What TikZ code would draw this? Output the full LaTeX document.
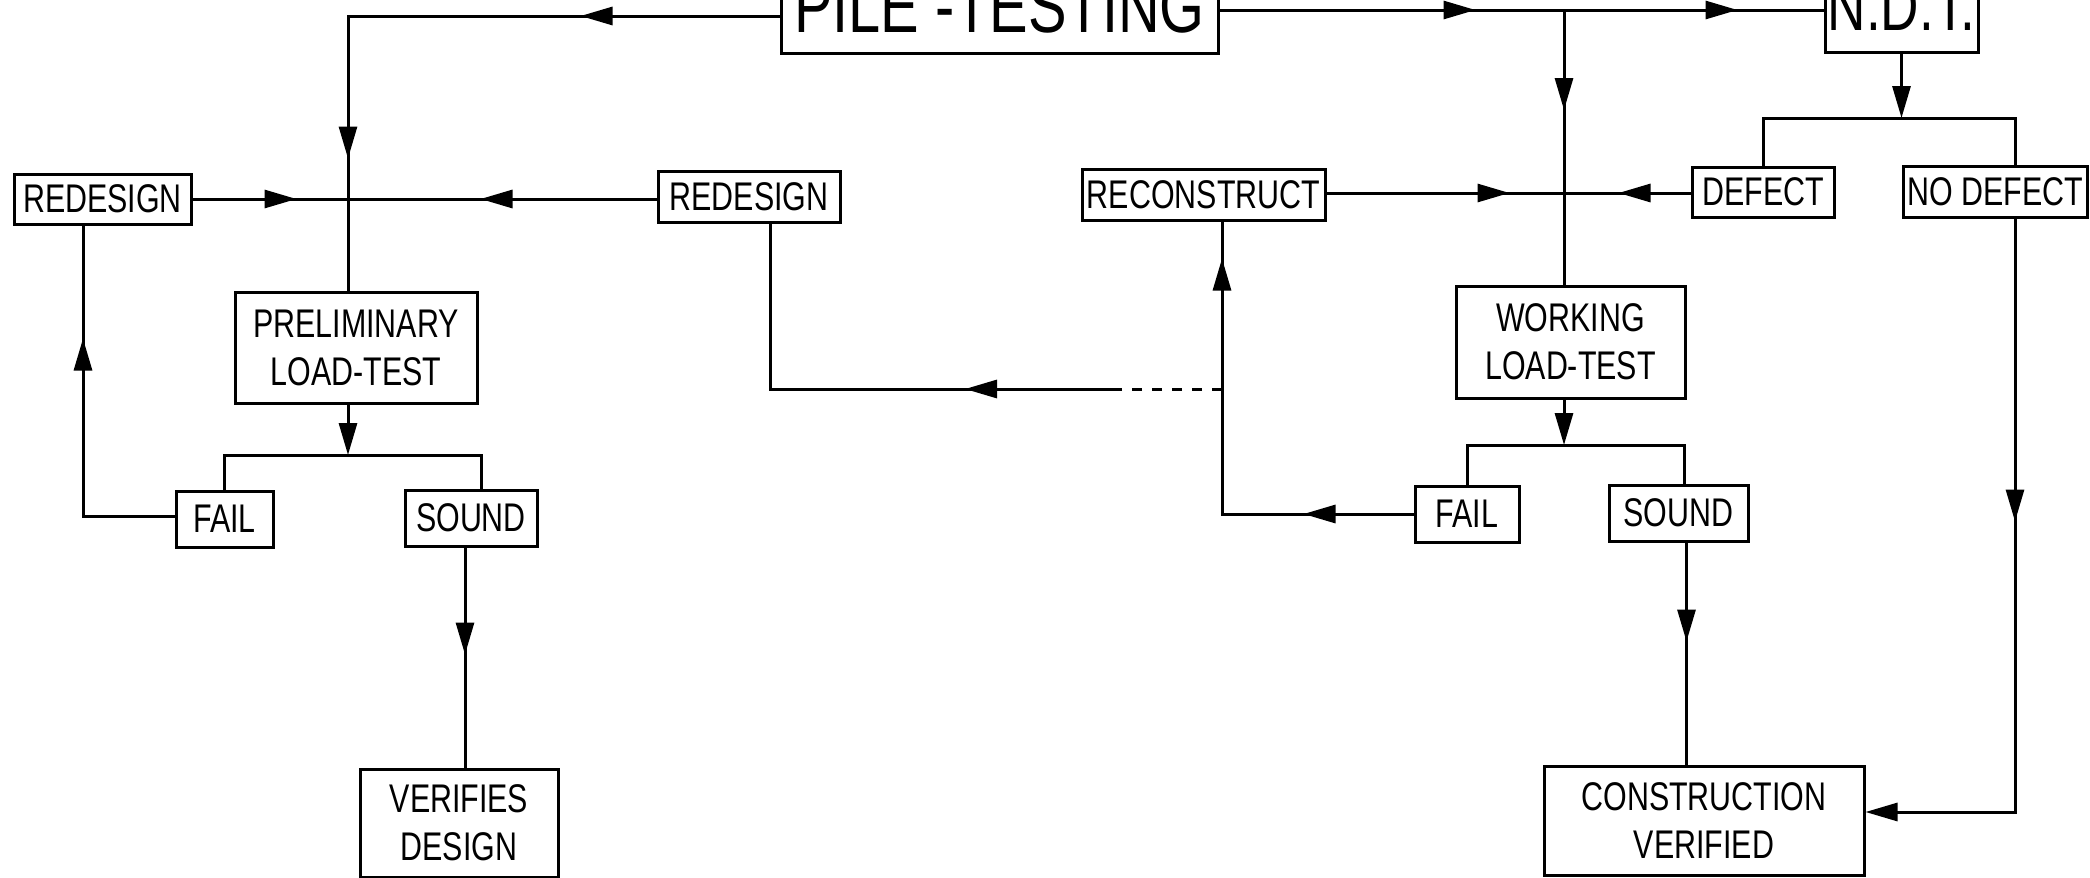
\documentclass[tikz,border=0pt]{standalone}
\usepackage{fontspec}
\setmainfont{Liberation Sans}[FakeStretch=0.76]
\usetikzlibrary{arrows.meta,decorations.markings}

\newcommand\lbl{\fontsize{20}{24}\selectfont}
\newcommand\biglbl{\fontsize{38}{40}\selectfont}
\newcommand\ndtlbl{\fontsize{35}{38}\selectfont}

\tikzset{
	box/.style={draw, line width=1.5pt, inner sep=0pt, align=center, font=\lbl},
	link/.style={line width=1.5pt},
	tip/.style={-{Triangle[length=16pt,width=9pt]}},
	midtip/.style={postaction={decorate,decoration={markings,
						mark=at position #1 with {\arrow{Triangle[length=16pt,width=9pt]}}}}},
}

\begin{document}
\begin{tikzpicture}[x=0.5pt,y=-0.5pt]
	\useasboundingbox (0,0) rectangle (2090,878);
	\clip (0,0) rectangle (2090,878);

	% boxes
	\node [box, font=\biglbl, minimum width=218.5pt, minimum height=46.5pt] (pile) at (999.5,6.5) {PILE -TESTING};
	\node [box, font=\ndtlbl, minimum width=76.5pt, minimum height=46pt] (ndt) at (1901.5,6) {N.D.T.};

	\node [box, minimum width=88.5pt, minimum height=25pt] (redesL) at (102.5,199) {REDESIGN};
	\node [box, minimum width=91pt, minimum height=25.5pt] (redesM) at (749,196.5) {REDESIGN};
	\node [box, minimum width=121pt, minimum height=55.5pt] (prelim) at (356,347.5) {PRELIMINARY\\LOAD-TEST};
	\node [box, minimum width=48.5pt, minimum height=28pt] (failL) at (224.5,519) {FAIL};
	\node [box, minimum width=66pt, minimum height=28pt] (soundL) at (471,518) {SOUND};
	\node [box, minimum width=99pt, minimum height=54pt] (verif) at (459,823) {VERIFIES\\DESIGN};

	\node [box, minimum width=121.5pt, minimum height=25.5pt] (recon) at (1203.5,194.5) {RECONSTRUCT};
	\node [box, minimum width=71pt, minimum height=25pt] (defect) at (1763,192) {DEFECT};
	\node [box, minimum width=92pt, minimum height=25.5pt] (nodef) at (1995,191.5) {NO DEFECT};
	\node [box, minimum width=114.5pt, minimum height=56pt] (work) at (1570.5,342) {WORKING\\LOAD-TEST};
	\node [box, minimum width=52pt, minimum height=28pt] (failR) at (1467,514) {FAIL};
	\node [box, minimum width=69.5pt, minimum height=28pt] (soundR) at (1678.5,513) {SOUND};
	\node [box, minimum width=160pt, minimum height=54.5pt] (constr) at (1704,820.5) {CONSTRUCTION\\VERIFIED};

	% corners and junctions
	\coordinate (tL) at (348,16);
	\coordinate (jL) at (348,199);
	\coordinate (bL) at (348,455);
	\coordinate (cF) at (83,516);
	\coordinate (tR) at (1564,10);
	\coordinate (jR) at (1564,193);
	\coordinate (bR) at (1564,445);
	\coordinate (bN) at (1903,118);
	\coordinate (cR) at (1222,514);
	\coordinate (cD) at (1222,389);
	\coordinate (cS) at (1112,389);
	\coordinate (cM) at (770,389);
	\coordinate (cN) at (2015,812);

	% left side
	\draw [link, midtip=99.5pt, midtip=287pt] (pile.west |- tL) -- (tL) -- (prelim.north -| tL);
	\draw [link, midtip=52pt] (redesL.east |- jL) -- (jL);
	\draw [link, midtip=88pt] (redesM.west |- jL) -- (jL);
	\draw [link, tip] (prelim.south -| bL) -- (bL);
	\draw [link] (failL.north) |- (bL) -| ([xshift=5pt]soundL.north);
	\draw [link, midtip=134.5pt] (failL.west |- cF) -- (cF) -- (cF |- redesL.south);
	\draw [link, midtip=53.5pt] ([xshift=-3pt]soundL.south) -- ([xshift=-3pt]soundL.south |- verif.north);

	% right side
	\draw [link, midtip=128pt, midtip=259pt] (pile.east |- tR) -- (ndt.west |- tR);
	\draw [link, midtip=50pt] (tR) -- (work.north -| tR);
	\draw [link, midtip=91.5pt] (recon.east |- jR) -- (jR);
	\draw [link, midtip=36pt] (defect.west |- jR) -- (jR);
	\draw [link, tip] (ndt.south) -- (ndt.south |- bN);
	\draw [link] (defect.north) |- (bN) -| (nodef.north -| cN);
	\draw [link, tip, midtip=151.5pt] (nodef.south -| cN) -- (cN) -- (constr.east |- cN);
	\draw [link, tip] (work.south -| bR) -- (bR);
	\draw [link] (failR.north) |- (bR) -| ([xshift=3pt]soundR.north);
	\draw [link, midtip=49.5pt] ([xshift=4pt]soundR.south) -- ([xshift=4pt]soundR.south |- constr.north);

	% fail loop back to reconstruct / redesign
	\draw [link, midtip=55pt, midtip=223.5pt] (failR.west |- cR) -- (cR) -- (cR |- recon.south);
	\draw [link, dash pattern=on 5pt off 5pt] (cD) -- (cS);
	\draw [link, midtip=73.5pt] (cS) -- (cM) -- (cM |- redesM.south);
\end{tikzpicture}
\end{document}
